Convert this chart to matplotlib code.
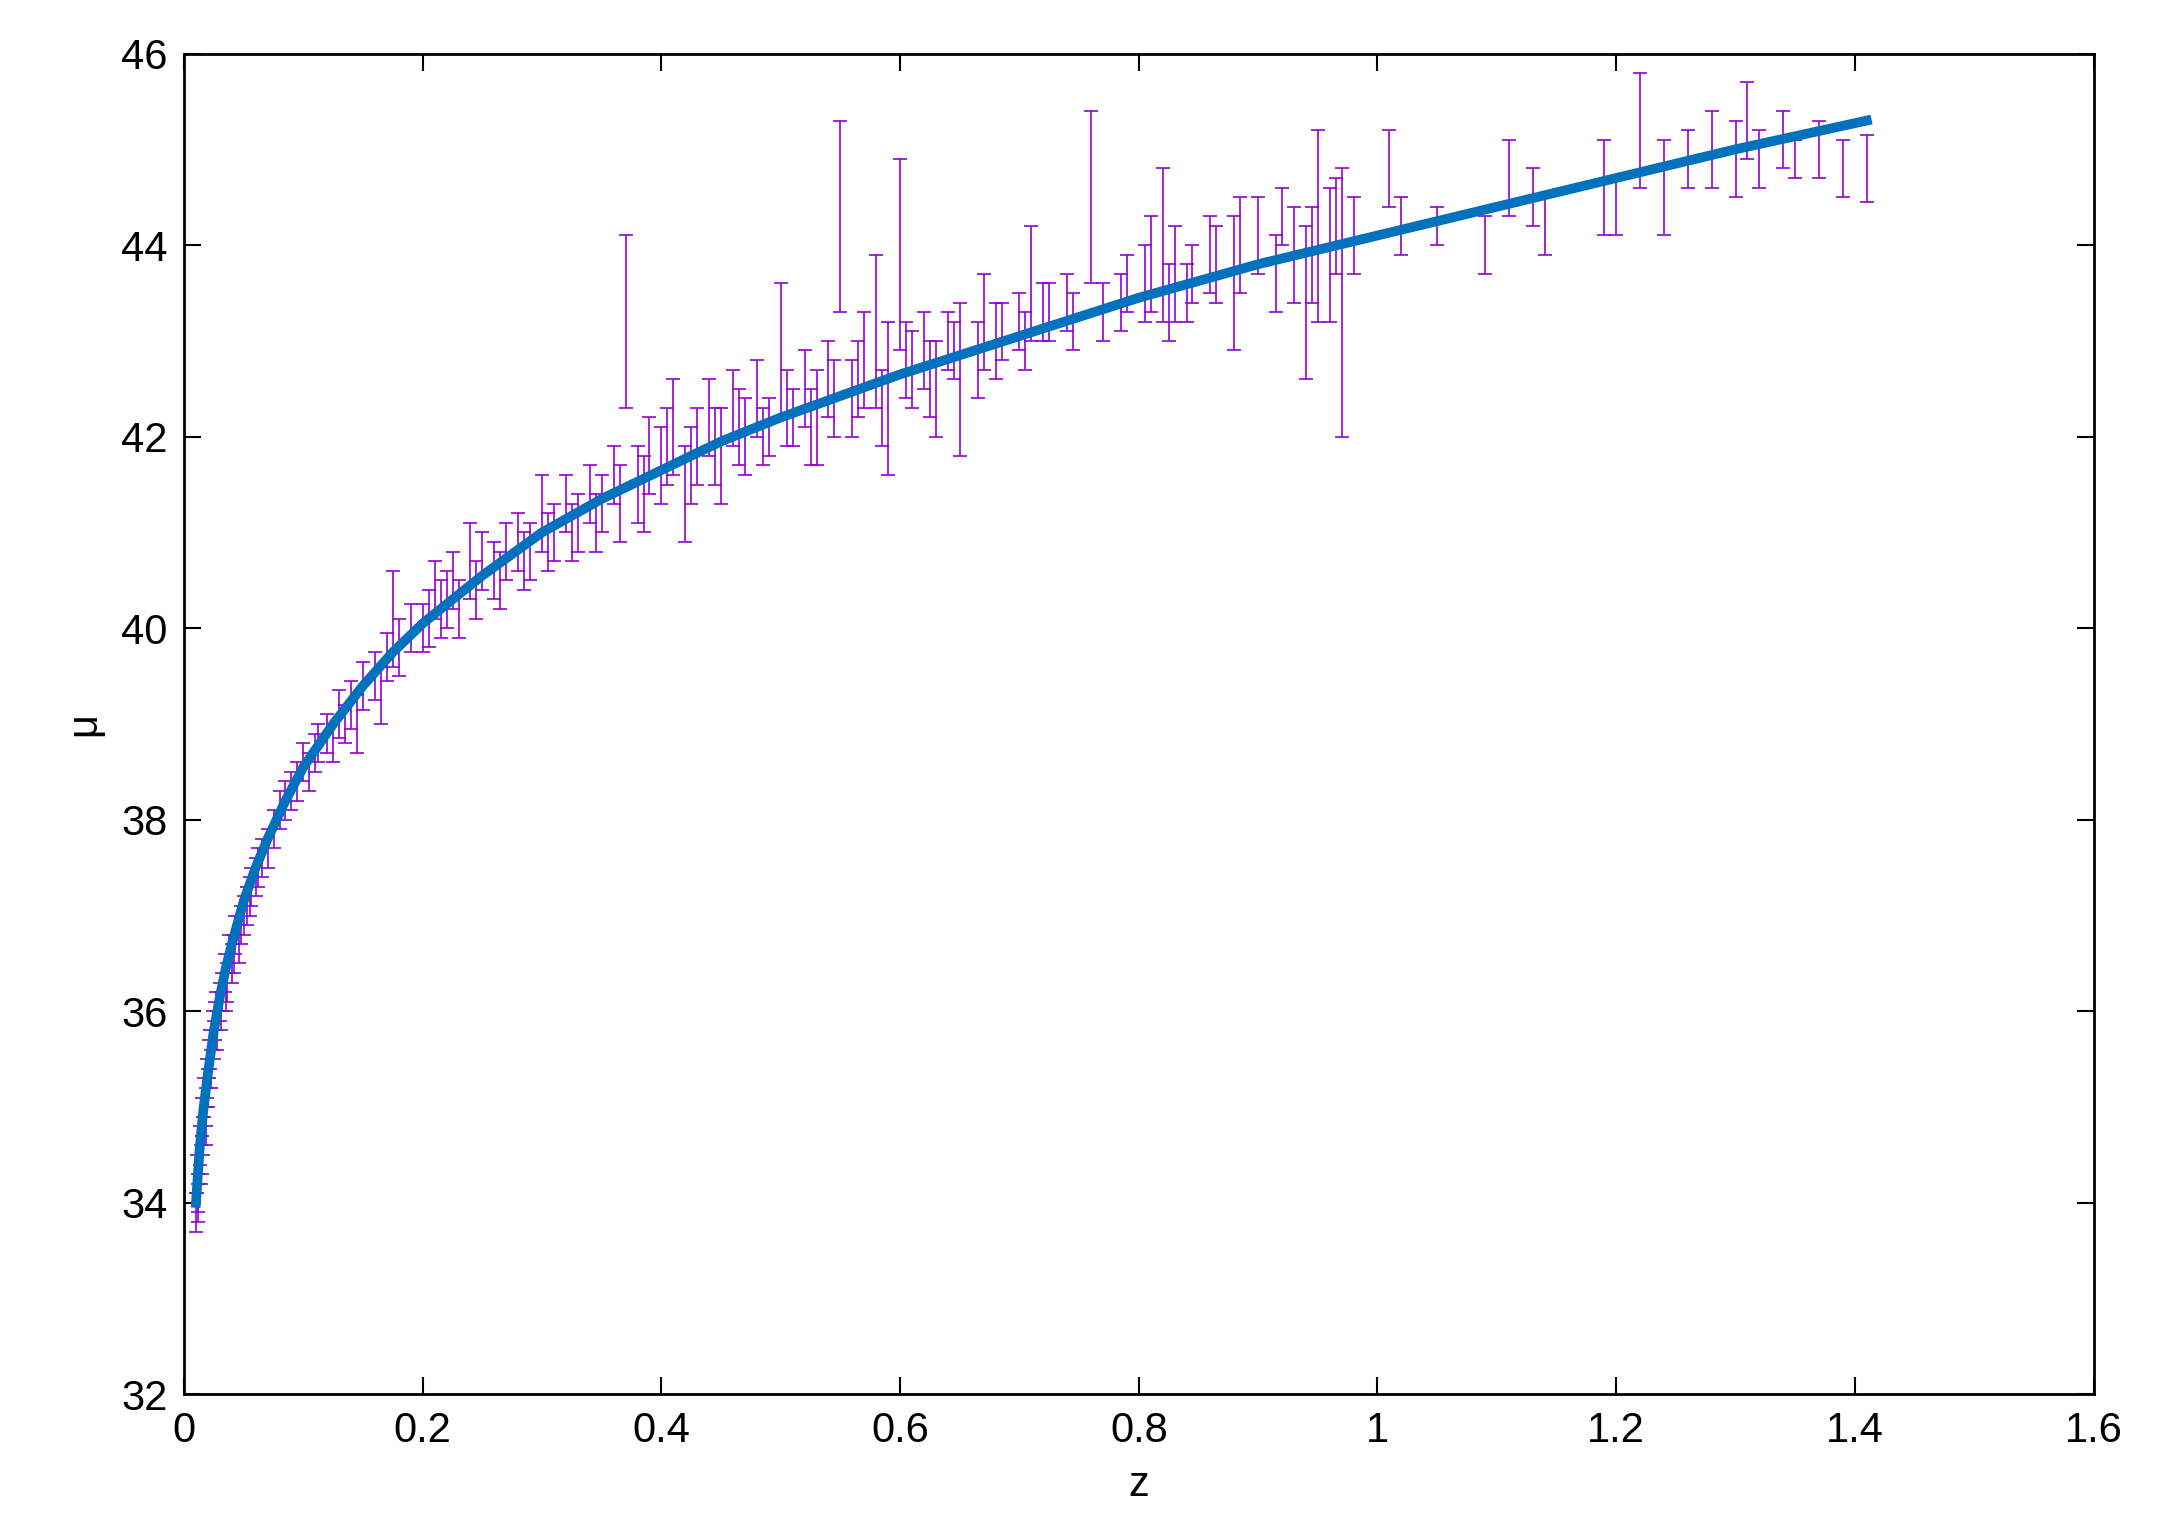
import numpy as np
import matplotlib
matplotlib.use("Agg")
from matplotlib import pyplot as plt

plt.rcParams['font.family'] = ['Liberation Sans', 'DejaVu Sans']

# supernova data: redshift, distance modulus, error
z = [0.010, 0.011, 0.012, 0.013, 0.014, 0.015, 0.016, 0.017, 0.018, 0.019,
     0.020, 0.022, 0.023, 0.024, 0.025, 0.027, 0.028, 0.030, 0.032, 0.034,
     0.036, 0.038, 0.040, 0.043, 0.046, 0.050, 0.053, 0.056, 0.060, 0.065,
     0.070, 0.075, 0.080, 0.085, 0.090, 0.095, 0.100, 0.105, 0.110, 0.120,
     0.125, 0.130, 0.140, 0.145, 0.150, 0.160, 0.165, 0.170, 0.175, 0.180,
     0.190, 0.200, 0.210, 0.215, 0.220, 0.230, 0.240, 0.250, 0.260, 0.270,
     0.280, 0.290, 0.300, 0.310, 0.320, 0.330, 0.340, 0.350, 0.360, 0.370,
     0.380, 0.390, 0.400, 0.410, 0.420, 0.430, 0.440, 0.450, 0.460, 0.470,
     0.480, 0.490, 0.500, 0.510, 0.520, 0.530, 0.540, 0.550, 0.560, 0.570,
     0.580, 0.590, 0.600, 0.610, 0.620, 0.630, 0.640, 0.650, 0.670, 0.680,
     0.700, 0.710, 0.720, 0.740, 0.760, 0.770, 0.790, 0.810, 0.820, 0.830,
     0.840, 0.860, 0.880, 0.900, 0.920, 0.930, 0.940, 0.950, 0.960, 0.970,
     0.980, 1.010, 1.020, 1.050, 1.090, 1.110, 1.130, 1.140, 1.190, 1.200,
     1.220, 1.240, 1.260, 1.280, 1.300, 1.310, 1.320, 1.340, 1.350, 1.370,
     1.390, 1.410,
     0.205, 0.225, 0.245, 0.265, 0.285, 0.305, 0.325, 0.345, 0.365, 0.385,
     0.405, 0.425, 0.445, 0.465, 0.485, 0.505, 0.525, 0.545, 0.565, 0.585,
     0.605, 0.625, 0.645, 0.665, 0.685, 0.705, 0.725, 0.745, 0.785, 0.805,
     0.825, 0.845, 0.865, 0.885, 0.915, 0.945, 0.965, 0.012, 0.015, 0.018,
     0.021, 0.026, 0.031, 0.035, 0.042, 0.048, 0.055, 0.062, 0.112, 0.135]
mu = [33.9, 34.3, 34.1, 34.6, 34.4, 34.9, 34.7, 35.1, 35.0, 35.3,
      35.2, 35.6, 35.4, 35.8, 35.7, 36.0, 35.8, 36.1, 36.2, 36.4,
      36.3, 36.6, 36.5, 36.8, 36.7, 37.0, 37.1, 37.3, 37.4, 37.6,
      37.7, 37.9, 38.1, 38.2, 38.3, 38.4, 38.6, 38.5, 38.7, 38.9,
      38.8, 39.1, 39.2, 39.0, 39.4, 39.5, 39.3, 39.7, 40.1, 39.8,
      40.0, 40.0, 40.4, 40.2, 40.3, 40.2, 40.7, 40.7, 40.6, 40.8,
      40.9, 40.8, 41.2, 41.0, 41.3, 41.1, 41.4, 41.3, 41.6, 43.2,
      41.5, 41.8, 41.7, 42.1, 41.4, 41.9, 42.2, 41.8, 42.3, 42.0,
      42.4, 42.1, 42.9, 42.2, 42.5, 42.2, 42.6, 44.3, 42.4, 42.8,
      43.1, 42.4, 43.9, 42.7, 42.9, 42.5, 43.0, 42.6, 43.2, 43.0,
      43.2, 43.6, 43.3, 43.4, 44.5, 43.3, 43.6, 43.8, 44.0, 43.7,
      43.5, 43.9, 43.6, 44.1, 44.3, 43.9, 43.4, 44.2, 43.9, 43.4,
      44.1, 44.8, 44.2, 44.2, 44.0, 44.7, 44.5, 44.2, 44.6, 44.4,
      45.2, 44.6, 44.9, 45.0, 44.9, 45.3, 44.9, 45.1, 44.9, 45.0,
      44.8, 44.8,
      40.1, 40.5, 40.4, 40.5, 40.7, 40.9, 41.0, 41.1, 41.3, 41.4,
      41.9, 41.7, 41.9, 42.1, 42.0, 42.3, 42.1, 42.4, 42.6, 42.3,
      42.8, 42.6, 42.9, 42.8, 43.1, 43.0, 43.3, 43.2, 43.4, 43.6,
      43.4, 43.7, 43.8, 44.0, 43.7, 43.9, 44.2, 34.0, 34.5, 34.8,
      35.5, 35.9, 36.0, 36.2, 36.6, 36.9, 37.2, 37.5, 38.8, 39.0]
err = [0.2, 0.2, 0.2, 0.2, 0.2, 0.2, 0.2, 0.2, 0.2, 0.2,
       0.2, 0.2, 0.2, 0.2, 0.2, 0.2, 0.2, 0.2, 0.2, 0.2,
       0.2, 0.2, 0.2, 0.2, 0.2, 0.2, 0.2, 0.2, 0.2, 0.2,
       0.2, 0.2, 0.2, 0.2, 0.2, 0.2, 0.2, 0.2, 0.2, 0.2,
       0.2, 0.25, 0.25, 0.3, 0.25, 0.25, 0.3, 0.25, 0.5, 0.3,
       0.25, 0.25, 0.3, 0.3, 0.3, 0.3, 0.4, 0.3, 0.3, 0.3,
       0.3, 0.3, 0.4, 0.3, 0.3, 0.3, 0.3, 0.3, 0.3, 0.9,
       0.4, 0.4, 0.4, 0.5, 0.5, 0.4, 0.4, 0.5, 0.4, 0.4,
       0.4, 0.3, 0.7, 0.3, 0.4, 0.5, 0.4, 1.0, 0.4, 0.5,
       0.8, 0.8, 1.0, 0.4, 0.4, 0.5, 0.3, 0.8, 0.5, 0.4,
       0.3, 0.6, 0.3, 0.3, 0.9, 0.3, 0.3, 0.5, 0.8, 0.5,
       0.3, 0.4, 0.7, 0.4, 0.3, 0.5, 0.8, 1.0, 0.7, 1.4,
       0.4, 0.4, 0.3, 0.2, 0.3, 0.4, 0.3, 0.3, 0.5, 0.3,
       0.6, 0.5, 0.3, 0.4, 0.4, 0.4, 0.3, 0.3, 0.2, 0.3,
       0.3, 0.35,
       0.3, 0.3, 0.3, 0.3, 0.3, 0.3, 0.3, 0.3, 0.4, 0.4,
       0.4, 0.4, 0.4, 0.4, 0.3, 0.4, 0.4, 0.4, 0.4, 0.4,
       0.4, 0.4, 0.3, 0.4, 0.3, 0.3, 0.3, 0.3, 0.3, 0.4,
       0.4, 0.3, 0.4, 0.5, 0.4, 0.5, 0.5, 0.2, 0.2, 0.2,
       0.2, 0.2, 0.2, 0.2, 0.2, 0.2, 0.2, 0.2, 0.2, 0.2]

# best fit model curve
fit_z = [0.010, 0.013, 0.016, 0.020, 0.025, 0.030, 0.035, 0.040, 0.050,
         0.060, 0.070, 0.085, 0.100, 0.125, 0.150, 0.175, 0.200, 0.250,
         0.300, 0.350, 0.400, 0.450, 0.500, 0.600, 0.700, 0.800, 0.900,
         1.000, 1.100, 1.200, 1.300, 1.410]
fit_mu = [34.0, 34.55, 34.95, 35.35, 35.8, 36.15, 36.45, 36.7, 37.15,
          37.5, 37.8, 38.2, 38.55, 39.0, 39.4, 39.75, 40.05, 40.55,
          41.0, 41.35, 41.65, 41.95, 42.2, 42.65, 43.05, 43.45, 43.8,
          44.1, 44.4, 44.7, 45.0, 45.3]

fig = plt.figure(figsize=(21.65, 15.29), dpi=100)
ax = fig.add_axes([0.085, 0.088, 0.882, 0.877])
ax.errorbar(z, mu, yerr=err, fmt='none', ecolor='#9400d3', elinewidth=1.2,
            capsize=5, capthick=1.2)
ax.plot(fit_z, fit_mu, color='#0072bd', lw=7)

ax.set_xlim(0, 1.6)
ax.set_ylim(32, 46)
ax.set_xticks(np.arange(0, 1.61, 0.2))
ax.set_xticklabels(['0', '0.2', '0.4', '0.6', '0.8', '1', '1.2', '1.4', '1.6'])
ax.set_yticks(np.arange(32, 47, 2))
ax.tick_params(direction='in', top=True, right=True, length=12, width=1.5,
               labelsize=30, pad=12)
for s in ax.spines.values():
    s.set_linewidth(2)
ax.set_xlabel('z', fontsize=30, labelpad=10)
ax.set_ylabel('μ', fontsize=30, labelpad=12)
plt.savefig('out.png')
